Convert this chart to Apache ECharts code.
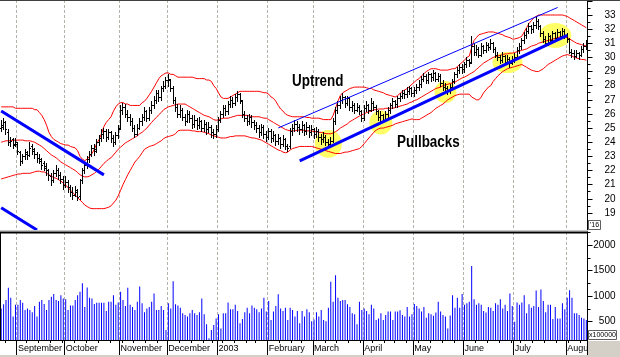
<!DOCTYPE html>
<html><head><meta charset="utf-8">
<style>html,body{margin:0;padding:0;background:#fff}#c{width:620px;height:357px}</style>
<script src="https://cdn.jsdelivr.net/npm/echarts@6/dist/echarts.min.js"></script>
</head><body><div id="c"></div>
<script>
// ---- data ----
const open = [
25.0,25.1,25.4,24.7,24.0,24.2,23.9,23.9,23.3,22.7,
23.0,23.2,23.1,23.7,23.4,23.2,22.9,22.7,22.5,22.2,
22.0,21.6,21.3,21.8,22.0,21.7,21.4,21.0,21.2,20.8,
20.5,20.3,20.5,20.2,21.3,22.0,22.4,22.8,23.2,23.6,
23.5,24.0,24.3,24.6,24.8,24.4,24.7,24.3,24.0,24.5,
25.0,26.3,26.5,26.0,25.8,25.5,25.0,24.6,25.0,25.5,
25.8,26.2,25.7,26.3,26.6,27.0,27.5,27.2,27.8,28.0,
28.4,28.4,27.8,27.0,26.5,26.0,26.3,25.8,25.5,26.0,
25.7,25.3,25.6,25.2,25.5,25.0,25.3,24.9,25.1,24.7,
24.6,24.9,25.6,26.0,26.4,26.2,26.7,27.0,26.8,27.2,
27.4,26.9,26.0,25.7,25.5,25.8,25.4,25.2,25.0,24.7,
25.1,24.6,24.4,24.8,24.3,24.5,24.1,24.3,23.9,24.2,
23.7,23.7,24.8,25.0,25.3,25.1,24.9,25.2,24.8,25.1,
24.7,24.9,24.6,24.8,24.4,24.2,24.4,24.0,23.9,24.1,
25.5,26.3,26.6,27.0,27.2,26.8,27.1,26.5,26.6,26.3,
26.5,26.2,25.7,26.4,26.6,26.3,26.8,26.5,26.2,25.8,
25.9,25.6,26.0,26.3,26.6,26.9,26.7,27.1,27.3,27.5,
27.4,27.6,27.8,27.5,27.7,27.9,28.1,28.5,28.7,28.4,
28.8,28.6,28.9,28.5,28.7,28.2,27.9,27.8,27.6,27.9,
28.3,28.8,29.1,29.3,29.2,29.5,29.8,29.7,30.8,30.4,
30.6,30.2,30.8,30.5,30.9,30.7,31.0,30.6,30.2,30.0,
29.8,30.1,29.7,29.9,29.6,29.8,30.0,30.5,30.8,31.2,
31.6,31.9,32.2,32.0,32.3,32.6,32.2,31.7,31.3,31.0,
31.5,31.2,31.7,31.4,31.8,31.5,31.9,31.6,31.3,30.4,
30.3,30.1,30.3,30.2,30.6,30.8];
const high = [
25.6,25.7,25.5,24.9,24.4,24.3,24.3,24.0,23.4,23.2,
23.5,23.4,24.0,23.9,23.6,23.3,23.2,22.9,22.7,22.5,
22.1,21.8,22.0,22.4,22.2,21.9,21.6,21.6,21.3,21.0,
20.8,20.9,20.7,21.4,22.2,22.6,23.0,23.4,23.8,23.9,
24.2,24.5,24.9,25.0,24.9,24.9,24.8,24.5,24.7,25.2,
26.6,26.8,26.7,26.3,26.0,25.7,25.2,25.3,25.7,26.0,
26.5,26.3,26.5,26.9,27.3,27.7,27.7,28.0,28.3,28.6,
28.8,28.5,28.0,27.2,26.7,26.6,26.4,26.0,26.3,26.2,
25.9,25.9,25.7,25.8,25.6,25.6,25.4,25.4,25.2,24.9,
25.2,25.8,26.2,26.6,26.6,26.9,27.3,27.2,27.4,27.6,
27.5,27.0,26.2,25.9,26.0,25.9,25.6,25.4,25.2,25.3,
25.2,24.8,25.0,24.9,24.8,24.6,24.6,24.4,24.5,24.3,
23.9,25.0,25.3,25.6,25.5,25.3,25.5,25.3,25.4,25.2,
25.2,25.0,25.1,24.9,24.6,24.7,24.5,24.2,24.4,25.7,
26.5,26.9,27.3,27.5,27.3,27.3,27.2,26.9,26.8,26.8,
26.6,26.3,26.6,26.9,26.7,27.1,26.9,26.6,26.3,26.2,
26.0,26.2,26.5,26.8,27.1,27.0,27.3,27.5,27.7,27.7,
27.9,28.0,27.9,27.9,28.1,28.4,28.7,28.9,28.8,29.0,
28.9,29.1,29.0,28.9,28.8,28.4,28.2,28.0,28.1,28.5,
29.0,29.3,29.5,29.5,29.7,30.0,29.9,31.5,31.0,30.9,
30.7,31.0,30.9,31.1,31.0,31.3,31.1,30.7,30.4,30.2,
30.4,30.2,30.2,30.0,30.1,30.3,30.7,31.0,31.4,31.8,
32.1,32.4,32.3,32.5,32.9,32.7,32.3,31.9,31.5,31.7,
31.6,31.9,31.8,32.0,31.9,32.1,32.0,31.7,31.4,30.6,
30.5,30.5,30.4,30.8,31.0,31.2];
const low = [
24.8,24.9,24.6,23.8,23.7,23.6,23.7,23.2,22.4,22.5,
22.8,22.8,23.0,23.2,22.9,22.6,22.5,22.1,22.0,21.7,
21.3,21.0,21.2,21.6,21.4,21.1,20.7,20.8,20.5,20.2,
20.0,20.2,19.9,20.0,21.1,21.8,22.2,22.6,23.0,23.1,
23.3,23.8,24.1,24.3,24.1,24.2,24.0,23.7,23.9,24.3,
24.9,26.0,25.8,25.5,25.2,24.8,24.4,24.5,24.9,25.2,
25.6,25.5,25.6,26.1,26.4,26.8,26.9,27.0,27.6,27.8,
28.0,27.6,26.8,26.2,25.8,25.8,25.6,25.2,25.4,25.4,
25.0,25.1,24.9,25.0,24.8,24.8,24.6,24.7,24.4,24.3,
24.4,24.8,25.4,25.8,25.9,26.0,26.5,26.5,26.6,26.9,
26.8,25.8,25.5,25.2,25.3,25.1,24.9,24.7,24.4,24.5,
24.3,24.1,24.2,24.0,24.1,23.8,23.9,23.6,23.7,23.5,
23.4,23.6,24.5,24.8,24.8,24.6,24.7,24.5,24.6,24.4,
24.5,24.3,24.4,24.1,23.9,24.0,23.8,23.7,23.8,24.0,
25.3,26.1,26.4,26.8,26.5,26.6,26.3,26.2,26.1,26.2,
26.0,25.5,25.6,26.2,26.1,26.2,26.3,26.0,25.6,25.5,
25.4,25.5,25.8,26.1,26.4,26.5,26.5,26.9,27.1,27.1,
27.2,27.4,27.3,27.3,27.5,27.7,27.9,28.3,28.2,28.2,
28.3,28.4,28.3,28.3,28.0,27.7,27.6,27.4,27.5,27.8,
28.2,28.6,28.9,28.9,29.0,29.3,29.4,29.6,30.2,30.2,
30.0,30.1,30.3,30.4,30.5,30.6,30.4,30.0,29.8,29.6,
29.7,29.5,29.6,29.3,29.5,29.7,29.9,30.3,30.6,31.0,
31.4,31.7,31.7,31.8,32.1,32.0,31.5,31.1,30.8,30.9,
31.0,31.1,31.2,31.3,31.3,31.4,31.4,31.1,30.3,30.0,
29.9,30.0,29.9,30.1,30.4,30.6];
const close = [
25.2,25.4,24.9,24.0,24.1,23.8,24.0,23.4,22.7,23.0,
23.3,23.1,23.6,23.5,23.2,22.9,22.8,22.4,22.3,22.0,
21.7,21.3,21.8,22.0,21.7,21.4,21.0,21.2,20.8,20.5,
20.3,20.6,20.1,21.3,22.0,22.4,22.8,23.2,23.6,23.4,
24.0,24.3,24.6,24.8,24.4,24.7,24.3,24.0,24.5,24.9,
26.3,26.5,26.0,25.8,25.5,25.0,24.6,25.0,25.5,25.8,
26.2,25.7,26.3,26.6,27.0,27.5,27.2,27.8,28.0,28.4,
28.5,27.8,27.0,26.5,26.0,26.3,25.8,25.5,26.0,25.7,
25.3,25.6,25.2,25.5,25.0,25.3,24.9,25.1,24.7,24.6,
24.9,25.6,26.0,26.4,26.2,26.7,27.0,26.8,27.2,27.4,
27.0,26.0,25.7,25.5,25.8,25.4,25.2,25.0,24.7,25.1,
24.6,24.4,24.8,24.3,24.5,24.1,24.3,23.9,24.2,23.7,
23.6,24.8,25.0,25.3,25.1,24.9,25.2,24.8,25.1,24.7,
24.9,24.6,24.8,24.4,24.2,24.4,24.0,23.9,24.1,25.5,
26.3,26.6,27.0,27.2,26.8,27.1,26.5,26.6,26.3,26.5,
26.2,25.7,26.4,26.6,26.3,26.8,26.5,26.2,25.8,25.9,
25.6,26.0,26.3,26.6,26.9,26.7,27.1,27.3,27.5,27.4,
27.6,27.8,27.5,27.7,27.9,28.1,28.5,28.7,28.4,28.8,
28.6,28.9,28.5,28.7,28.2,27.9,27.8,27.6,27.9,28.3,
28.8,29.1,29.3,29.2,29.5,29.8,29.6,30.8,30.4,30.6,
30.2,30.8,30.5,30.9,30.7,31.0,30.6,30.2,30.0,29.8,
30.1,29.7,29.9,29.6,29.8,30.0,30.5,30.8,31.2,31.6,
31.9,32.2,32.0,32.3,32.6,32.2,31.7,31.3,31.0,31.5,
31.2,31.7,31.4,31.8,31.5,31.9,31.6,31.3,30.4,30.3,
30.1,30.3,30.2,30.6,30.8,31.0];
const upperBand = [
26.5,26.5,26.5,26.5,26.5,26.5,26.4,26.4,26.4,26.4,
26.4,26.4,26.4,26.4,26.3,26.3,26.1,25.9,25.6,25.2,
24.7,24.4,24.2,24.1,24.0,23.9,23.85,23.8,23.8,23.7,
23.65,23.6,23.4,23.0,22.8,22.7,22.8,23.0,23.2,23.5,
23.9,24.2,24.6,25.1,25.4,25.6,25.8,26.2,26.5,26.7,
26.8,26.8,26.7,26.7,26.6,26.6,26.6,26.6,26.6,26.8,
26.9,27.1,27.35,27.6,27.9,28.2,28.5,28.7,28.8,28.9,
28.9,28.8,28.8,28.7,28.6,28.6,28.6,28.6,28.6,28.6,
28.6,28.55,28.5,28.5,28.5,28.5,28.4,28.4,28.3,28.0,
27.8,27.5,27.2,27.1,27.1,27.1,27.2,27.3,27.4,27.5,
27.6,27.6,27.6,27.6,27.6,27.6,27.6,27.6,27.6,27.55,
27.5,27.5,27.4,27.2,27.1,26.9,26.6,26.35,26.2,26.0,
25.9,25.85,25.8,25.8,25.8,25.8,25.8,25.8,25.75,25.75,
25.7,25.7,25.7,25.7,25.65,25.6,25.6,25.6,25.6,25.9,
26.4,26.9,27.3,27.5,27.6,27.7,27.8,27.85,27.9,27.9,
27.9,27.9,27.9,27.85,27.8,27.8,27.7,27.65,27.6,27.55,
27.5,27.4,27.35,27.3,27.25,27.2,27.3,27.45,27.6,27.7,
27.8,27.95,28.1,28.25,28.4,28.5,28.7,28.85,29.0,29.1,
29.2,29.2,29.2,29.15,29.1,29.1,29.1,29.1,29.15,29.2,
29.2,29.35,29.5,29.65,29.8,30.0,30.1,30.7,31.2,31.4,
31.6,31.65,31.7,31.75,31.8,31.8,31.8,31.75,31.7,31.65,
31.6,31.5,31.45,31.4,31.3,31.3,31.35,31.4,31.5,31.8,
32.1,32.4,32.6,32.8,32.9,33.0,33.0,33.0,33.0,33.0,
33.0,33.0,33.0,33.0,33.0,33.0,32.95,32.9,32.8,32.7,
32.6,32.5,32.4,32.3,32.2,32.1];
const middleBand = [
24.0,24.05,24.1,24.1,24.1,24.15,24.15,24.15,24.15,24.15,
24.1,24.1,24.1,24.05,24.0,23.9,23.8,23.7,23.55,23.4,
23.25,23.1,23.0,22.9,22.75,22.6,22.5,22.4,22.3,22.2,
22.1,22.0,21.85,21.7,21.6,21.55,21.55,21.6,21.7,21.8,
21.95,22.1,22.3,22.5,22.65,22.8,22.9,23.1,23.3,23.5,
23.65,23.8,23.95,24.05,24.15,24.25,24.35,24.45,24.6,24.7,
24.85,25.0,25.2,25.4,25.6,25.75,25.95,26.1,26.3,26.4,
26.5,26.55,26.6,26.65,26.7,26.7,26.7,26.7,26.6,26.5,
26.4,26.3,26.2,26.1,26.0,25.9,25.85,25.8,25.7,25.6,
25.55,25.6,25.65,25.7,25.7,25.7,25.75,25.8,25.85,25.9,
25.9,25.9,25.9,25.9,25.85,25.8,25.8,25.8,25.8,25.75,
25.7,25.7,25.6,25.5,25.4,25.3,25.2,25.1,25.0,24.9,
24.85,24.8,24.8,24.8,24.85,24.85,24.85,24.85,24.8,24.8,
24.8,24.75,24.75,24.7,24.7,24.65,24.6,24.6,24.6,24.65,
24.75,24.85,25.0,25.1,25.2,25.3,25.45,25.55,25.65,25.75,
25.85,25.95,26.0,26.1,26.15,26.2,26.3,26.3,26.35,26.35,
26.35,26.4,26.4,26.4,26.4,26.45,26.5,26.55,26.6,26.65,
26.7,26.8,26.85,26.95,27.0,27.1,27.2,27.3,27.4,27.5,
27.6,27.7,27.8,27.85,27.9,28.0,28.05,28.1,28.15,28.2,
28.25,28.35,28.45,28.55,28.6,28.7,28.8,28.9,29.0,29.15,
29.3,29.45,29.6,29.7,29.8,29.9,30.0,30.05,30.1,30.15,
30.2,30.25,30.25,30.3,30.3,30.35,30.4,30.45,30.5,30.55,
30.6,30.7,30.8,30.85,30.9,31.0,31.05,31.1,31.15,31.2,
31.25,31.3,31.35,31.4,31.45,31.5,31.45,31.4,31.3,31.2,
31.1,31.0,30.95,30.9,30.85,30.8];
const lowerBand = [
21.4,21.45,21.5,21.55,21.6,21.65,21.7,21.75,21.75,21.8,
21.8,21.8,21.8,21.85,21.9,21.95,21.95,21.9,21.9,21.8,
21.7,21.6,21.5,21.45,21.35,21.25,21.1,20.95,20.8,20.6,
20.45,20.25,20.1,19.9,19.75,19.55,19.45,19.35,19.3,19.3,
19.3,19.3,19.3,19.3,19.35,19.4,19.5,19.7,19.9,20.2,
20.6,21.0,21.35,21.7,22.0,22.3,22.6,22.8,23.0,23.25,
23.5,23.6,23.7,23.75,23.8,23.9,24.0,24.1,24.25,24.35,
24.4,24.45,24.5,24.6,24.8,24.85,24.85,24.85,24.85,24.85,
24.8,24.8,24.75,24.75,24.75,24.7,24.65,24.6,24.5,24.45,
24.4,24.35,24.3,24.3,24.3,24.35,24.4,24.4,24.45,24.45,
24.45,24.45,24.45,24.4,24.35,24.3,24.3,24.25,24.2,24.15,
24.05,23.95,23.85,23.75,23.65,23.55,23.45,23.4,23.3,23.25,
23.3,23.45,23.55,23.6,23.65,23.7,23.7,23.7,23.7,23.7,
23.7,23.65,23.6,23.55,23.5,23.45,23.4,23.35,23.3,23.25,
23.2,23.2,23.2,23.25,23.3,23.3,23.35,23.4,23.45,23.5,
23.55,23.7,23.9,24.1,24.3,24.5,24.7,24.85,24.95,25.0,
25.0,25.05,25.1,25.15,25.2,25.3,25.35,25.4,25.45,25.5,
25.55,25.6,25.65,25.6,25.6,25.6,25.7,25.8,25.9,26.0,
26.1,26.25,26.4,26.5,26.6,26.7,26.85,27.0,27.1,27.2,
27.3,27.35,27.4,27.4,27.4,27.4,27.4,27.2,27.1,27.0,
27.0,27.2,27.5,27.7,27.9,28.0,28.3,28.5,28.7,28.85,
29.0,29.1,29.2,29.25,29.3,29.35,29.4,29.45,29.5,29.4,
29.3,29.2,29.1,29.05,29.0,29.0,29.1,29.2,29.35,29.5,
29.6,29.7,29.8,29.9,30.0,30.1,30.15,30.2,30.15,30.1,
30.0,29.95,29.9,29.85,29.85,29.8];
const volume = [
760,840,925,1165,970,600,830,830,925,870,
730,760,730,685,810,600,890,925,845,730,
925,990,1040,925,905,1020,955,940,730,815,
815,925,1020,1085,1250,790,1170,970,955,845,
870,870,870,870,710,890,890,1020,830,875,
1085,925,810,1165,830,790,730,890,1190,860,
685,760,790,890,1050,730,730,810,730,340,
860,760,1290,840,815,775,665,630,600,665,
730,665,630,685,955,645,450,175,340,435,
565,645,370,665,665,875,745,745,830,710,
470,555,685,775,665,815,775,745,685,760,
970,700,905,535,700,810,1035,760,710,775,
535,775,730,600,710,470,710,600,745,685,
510,545,685,600,730,535,510,775,1281,890,
1410,970,905,925,925,840,790,665,645,450,
890,730,760,710,645,830,760,535,565,665,
535,630,700,700,535,700,700,725,630,600,
790,600,645,845,810,760,700,790,580,665,
645,615,680,890,700,630,600,370,620,1020,
775,970,775,1040,830,860,890,1590,940,830,
860,830,710,680,790,775,710,860,830,940,
760,830,710,1050,810,500,875,830,875,1020,
665,840,775,810,1110,790,1130,905,685,830,
830,555,790,565,565,860,745,970,1115,970,
665,665,630,580,565,535];
// trend lines: [startIndex, startPrice, endIndex, endPrice]
const trendLines = [
  [-0.5, 26.21, 43.05, 21.69],
  [-0.5, 19.37, 14.5, 17.79],
  [115.5, 25.01, 232.7, 33.53],
  [125.1, 22.68, 237.4, 31.55]
];
// pullback highlights: [index, price]
const pullbackSpots = [[137.2, 23.88], [159.2, 25.40], [186, 27.55], [212, 29.64], [231.7, 31.55]];
const priceTicks = [19,20,21,22,23,24,25,26,27,28,29,30,31,32,33];
const volumeTicks = [500, 1000, 1500, 2000];
const monthNames = ['2003','February','March','April','May','June','July','August','September','October','November','December'];
const holidays = ['2002-09-02','2002-11-28','2002-12-25','2003-01-01','2003-01-20','2003-02-17','2003-04-18','2003-05-26','2003-07-04'];

// ---- styles ----
const trendWidths = [3, 3, 1, 3];
const spotRadii = [[13.5, 14], [11.5, 12], [11, 11], [15, 10.5], [16, 12.5]];
const FONT = 'Liberation Sans, Arial, sans-serif';

// trading-day calendar
const dates = [];
{
  const d = new Date(Date.UTC(2002, 7, 22));
  while (dates.length < close.length) {
    const dow = d.getUTCDay();
    const s = d.toISOString().slice(0, 10);
    if (dow !== 0 && dow !== 6 && holidays.indexOf(s) < 0) dates.push(s);
    d.setUTCDate(d.getUTCDate() + 1);
  }
}
const monthStarts = new Set();
const weekStarts = new Set();
dates.forEach((s, i) => {
  if (i > 0 && s.slice(5, 7) !== dates[i - 1].slice(5, 7)) monthStarts.add(i);
  if (i > 0) {
    const a = new Date(s + 'T00:00:00Z').getUTCDay();
    const b = new Date(dates[i - 1] + 'T00:00:00Z').getUTCDay();
    if (a < b) weekStarts.add(i);
  }
});

const ohlc = dates.map((d, i) => [i, open[i], high[i], low[i], close[i]]);
function rng(a, b, s) { const r = []; for (let v = a; v <= b + 1e-9; v += s) r.push(+v.toFixed(2)); return r; }

const chart = echarts.init(document.getElementById('c'), null, { renderer: 'canvas' });
const PMIN = 17.79, PMAX = 34.06, VMIN = 143, VMAX = 2254;
const split = { show: true, interval: (i) => monthStarts.has(i), lineStyle: { color: '#b4b2aa', type: [3, 2], width: 1 } };

chart.setOption({
  animation: false,
  textStyle: { fontFamily: FONT },
  grid: [
    { left: 0, top: 0, width: 587.5, height: 230 },
    { left: 0, top: 232, width: 587.5, height: 108 }
  ],
  xAxis: [
    { type: 'category', gridIndex: 0, data: dates, boundaryGap: true,
      axisLine: { show: false }, axisTick: { show: false }, axisLabel: { show: false }, splitLine: split },
    { type: 'category', gridIndex: 1, data: dates, boundaryGap: true,
      axisLine: { show: true, lineStyle: { color: '#000', width: 1 } },
      axisTick: { show: true, interval: (i) => weekStarts.has(i), length: 3, lineStyle: { color: '#000' } },
      axisLabel: { show: false }, splitLine: split },
    { type: 'category', gridIndex: 1, data: dates, boundaryGap: true, position: 'bottom',
      axisLine: { show: false },
      axisTick: { show: true, interval: (i) => monthStarts.has(i), length: 15, lineStyle: { color: '#000' } },
      axisLabel: { show: true, interval: (i) => monthStarts.has(i), align: 'left', margin: 4,
        showMinLabel: true, showMaxLabel: true, hideOverlap: false,
        fontSize: 9, color: '#000', fontFamily: FONT,
        formatter: (v) => monthNames[(+v.slice(5, 7)) - 1] },
      splitLine: { show: false } }
  ],
  yAxis: [
    { type: 'value', gridIndex: 0, position: 'right', min: PMIN, max: PMAX,
      axisLine: { show: true, onZero: false, lineStyle: { color: '#000' } },
      axisTick: { show: true, length: 5, customValues: rng(18, 34, 1), lineStyle: { color: '#000' } },
      axisLabel: { show: true, customValues: priceTicks, align: 'right', margin: 28, fontSize: 10, color: '#000', fontFamily: FONT,
        formatter: (v) => String(v) },
      splitLine: { show: false } },
    { type: 'value', gridIndex: 0, position: 'right', min: PMIN, max: PMAX,
      axisLine: { show: false },
      axisTick: { show: true, length: 3, customValues: rng(18.5, 33.5, 1), lineStyle: { color: '#000' } },
      axisLabel: { show: false }, splitLine: { show: false } },
    { type: 'value', gridIndex: 1, position: 'right', min: VMIN, max: VMAX,
      axisLine: { show: true, onZero: false, lineStyle: { color: '#000' } },
      axisTick: { show: true, length: 5, customValues: volumeTicks, lineStyle: { color: '#000' } },
      axisLabel: { show: true, customValues: volumeTicks, align: 'right', margin: 28, fontSize: 10, color: '#000', fontFamily: FONT,
        formatter: (v) => String(v) },
      splitLine: { show: false } },
    { type: 'value', gridIndex: 1, position: 'right', min: VMIN, max: VMAX,
      axisLine: { show: false },
      axisTick: { show: true, length: 3, customValues: [250, 750, 1250, 1750, 2250], lineStyle: { color: '#000' } },
      axisLabel: { show: false }, splitLine: { show: false } }
  ],
  series: [
    { type: 'custom', xAxisIndex: 0, yAxisIndex: 0, z: 1, silent: true,
      data: pullbackSpots,
      renderItem: (params, api) => {
        const p = api.coord([api.value(0), api.value(1)]);
        const r = spotRadii[params.dataIndex];
        return { type: 'circle', x: p[0], y: p[1], scaleX: r[0] / r[1],
          shape: { cx: 0, cy: 0, r: r[1] }, style: { fill: '#ffff66' } };
      } },
    { type: 'line', xAxisIndex: 0, yAxisIndex: 0, data: upperBand, showSymbol: false, z: 2, silent: true,
      lineStyle: { color: '#ff0000', width: 1 } },
    { type: 'line', xAxisIndex: 0, yAxisIndex: 0, data: middleBand, showSymbol: false, z: 2, silent: true,
      lineStyle: { color: '#ff0000', width: 1 } },
    { type: 'line', xAxisIndex: 0, yAxisIndex: 0, data: lowerBand, showSymbol: false, z: 2, silent: true,
      lineStyle: { color: '#ff0000', width: 1 } },
    { type: 'custom', xAxisIndex: 0, yAxisIndex: 0, z: 3, silent: true, data: ohlc,
      renderItem: (params, api) => {
        const i = api.value(0);
        const ph = api.coord([i, api.value(2)]), pl = api.coord([i, api.value(3)]);
        const po = api.coord([i, api.value(1)]), pc = api.coord([i, api.value(4)]);
        const x = Math.floor(ph[0]) + 0.5;
        const yo = Math.round(po[1]) + 0.5, yc = Math.round(pc[1]) + 0.5;
        const st = { stroke: '#000', lineWidth: 1 };
        return { type: 'group', children: [
          { type: 'line', shape: { x1: x, y1: Math.round(ph[1]), x2: x, y2: Math.round(pl[1]) + 1 }, style: st },
          { type: 'line', shape: { x1: x - 1.5, y1: yo, x2: x, y2: yo }, style: st },
          { type: 'line', shape: { x1: x, y1: yc, x2: x + 1.5, y2: yc }, style: st }
        ] };
      } },
    { type: 'custom', xAxisIndex: 0, yAxisIndex: 0, z: 4, silent: true, data: trendLines, clip: true,
      renderItem: (params, api) => {
        const a = api.coord([api.value(0), api.value(1)]);
        const b = api.coord([api.value(2), api.value(3)]);
        return { type: 'line', shape: { x1: a[0], y1: a[1], x2: b[0], y2: b[1] },
          style: { stroke: '#0000ff', lineWidth: trendWidths[params.dataIndex] } };
      } },
    { type: 'bar', xAxisIndex: 1, yAxisIndex: 2, data: volume, barWidth: 1, silent: true,
      itemStyle: { color: '#0000ff' } }
  ],
  graphic: [
    { type: 'line', z: 100, shape: { x1: 0, y1: 0.5, x2: 620, y2: 0.5 }, style: { stroke: '#404040', lineWidth: 1 } },
    { type: 'line', z: 100, shape: { x1: 0, y1: 230.5, x2: 588, y2: 230.5 }, style: { stroke: '#c8c8c8', lineWidth: 1 } },
    { type: 'line', z: 100, shape: { x1: 0, y1: 232.5, x2: 588, y2: 232.5 }, style: { stroke: '#000', lineWidth: 2 } },
    { type: 'line', z: 100, shape: { x1: 0.5, y1: 232, x2: 0.5, y2: 340 }, style: { stroke: '#000', lineWidth: 1 } },
    { type: 'rect', z: 100, shape: { x: 588.5, y: 220.5, width: 12, height: 9 }, style: { fill: '#fff', stroke: '#606060', lineWidth: 1 } },
    { type: 'text', z: 101, style: { x: 594.5, y: 225.5, text: "'16", font: '7px ' + FONT, fill: '#000', textAlign: 'center', textVerticalAlign: 'middle' } },
    { type: 'rect', z: 100, shape: { x: 588.5, y: 330.5, width: 28, height: 9 }, style: { fill: '#fff', stroke: '#606060', lineWidth: 1 } },
    { type: 'text', z: 101, style: { x: 602.5, y: 335.5, text: 'x100000', font: '7px ' + FONT, fill: '#000', textAlign: 'center', textVerticalAlign: 'middle' } },
    { type: 'rect', z: 100, shape: { x: 588, y: 341, width: 32, height: 16 }, style: { fill: '#d4d0c8' } },
    { type: 'rect', z: 100, shape: { x: 0, y: 355, width: 620, height: 2 }, style: { fill: '#d4d0c8' } },
    { type: 'text', z: 101, x: 292, y: 82, scaleX: 0.84, style: { x: 0, y: 0, text: 'Uptrend', font: 'bold 16px ' + FONT, fill: '#000', textAlign: 'left', textVerticalAlign: 'middle' } },
    { type: 'text', z: 101, x: 397, y: 143, scaleX: 0.84, style: { x: 0, y: 0, text: 'Pullbacks', font: 'bold 16px ' + FONT, fill: '#000', textAlign: 'left', textVerticalAlign: 'middle' } }
  ]
});
</script></body></html>
